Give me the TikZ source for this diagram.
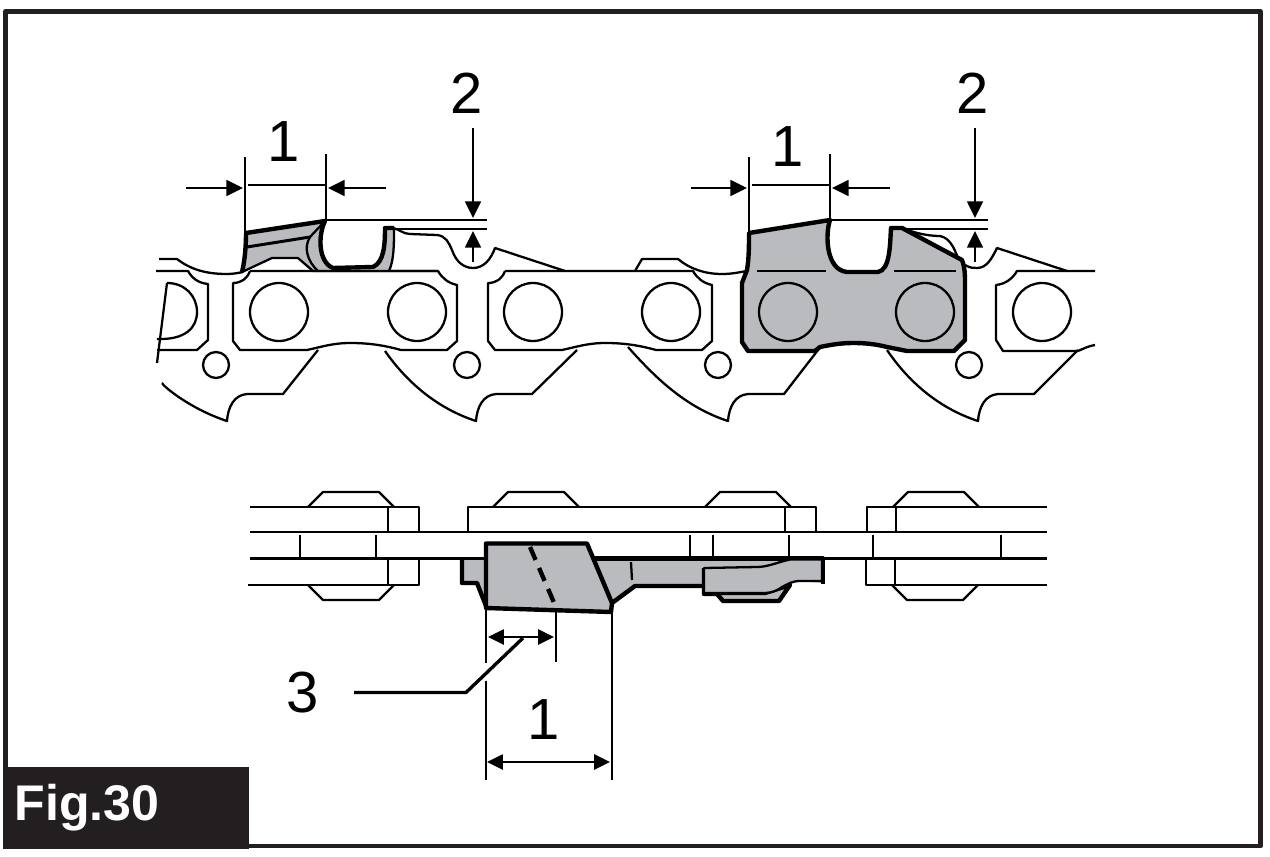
\documentclass[tikz,border=0pt]{standalone}
\usepackage{fontspec}
\setmainfont{Liberation Sans}
\usetikzlibrary{arrows.meta}
\definecolor{cutter}{HTML}{B9BBBE}
\definecolor{figbox}{HTML}{231F20}
\begin{document}
\begin{tikzpicture}[x=0.2mm,y=-0.2mm,line join=round,
    thinline/.style={line width=1.3pt},
    boldline/.style={line width=2.5pt},
    dimtip/.style={-{Triangle[length=9.5pt,width=9pt]},line width=1.3pt},
    dimboth/.style={{Triangle[length=9pt,width=8.5pt]}-{Triangle[length=9pt,width=8.5pt]},line width=1.3pt},
    number/.style={font=\fontsize{33}{33}\selectfont,inner sep=0pt}]
  \useasboundingbox (0,0) rectangle (1270,857);
  \draw[line width=2.8pt,figbox] (5.5,11.5) rectangle (1260.5,846);
  \fill[figbox] (3,767) rectangle (249,849);
  \node[font=\fontsize{28.5}{28.5}\selectfont\bfseries,text=white,inner sep=0pt] (figlabel) at (87,808) {Fig.30};

  % side view, plain links
  \begin{scope}[thinline]
    \foreach \lx in {233,488} {
      \draw[shift={(\lx,271)}] (17,0) -- (205,0)
        .. controls (209,7) and (215,12) .. (224,14) -- (224,70) -- (214,79)
        -- (168,79) .. controls (150,74) and (135,72) .. (117,72)
        .. controls (100,72) and (88,76) .. (74,79) -- (7,79) -- (0,70) -- (0,12)
        .. controls (8,12) and (14,8) .. (17,0);
    }
    \draw (156,271) -- (188,271) .. controls (192,278) and (198,283) .. (208,284)
      -- (208,340) -- (197,350) -- (157,350);
    \draw (167,283) .. controls (185,283) and (197,296) .. (197,312)
      .. controls (197,328) and (185,340) .. (157,339);
    \draw (167,283) -- (157,363);
    \draw (1095,271) -- (1017,271) .. controls (1013,278) and (1006,284) .. (996,285)
      -- (996,340) -- (1003,351) -- (1078,351) .. controls (1083,349) and (1088,346) .. (1095,345);
    \foreach \hx in {279,417,533,671,1042}
      \draw (\hx,312) circle[radius=29];
    \foreach \rx in {216,467,718,969}
      \draw (\rx,365) circle[radius=13];

    % drive links
    \foreach \fx/\fy/\tx/\ex in {163/383/227/318,385/351/476/577,628/347/728/818,887/350/978/1078} {
      \draw (\fx,\fy) .. controls (\tx-70,381) and (\tx-40,408) .. (\tx,421)
        .. controls (\tx+1,407) and (\tx+7,395) .. (\tx+20,394) -- (\tx+56,394) -- (\ex,350);
    }

    % top edges between the links
    \draw (159,259) -- (177,259) .. controls (190,269) and (205,274) .. (227,274)
      .. controls (233,274) and (238,273) .. (243,272);
    \draw (635,271) -- (642,259) -- (678,259) .. controls (690,269) and (705,274) .. (722,274)
      .. controls (733,274) and (740,272) .. (747,271);
    \draw (393,228) .. controls (399,229) and (403,234) .. (410,234) -- (437,235)
      .. controls (446,236) and (449,243) .. (452,250) .. controls (456,262) and (464,268) .. (473,268)
      .. controls (484,268) and (491,259) .. (495,248) -- (565,271);
    \draw (905,229) .. controls (915,233) and (928,236) .. (940,236)
      .. controls (950,238) and (954,248) .. (958,258);
    \draw (965,265) .. controls (970,268) and (973,268) .. (977,268)
      .. controls (987,268) and (992,258) .. (997,248) -- (1067,271);
  \end{scope}

  % cutter seen from the side, behind
  \fill[cutter] (246,233) -- (325,221) -- (320,240) .. controls (320,256) and (325,268) .. (335,271)
    -- (313,271) -- (298,258) -- (272,258) -- (243,272) -- cycle;
  \fill[cutter] (394,229) -- (394,253) -- (389,271) -- (370,271) .. controls (382,262) and (385,245) .. (385,229) -- cycle;
  \draw[boldline] (242,272) .. controls (245,260) and (246,245) .. (246,233) -- (325,221)
    .. controls (318,235) and (318,262) .. (333,268) -- (373,267)
    .. controls (384,262) and (385,245) .. (385,228) -- (394,228);
  \begin{scope}[thinline]
    \draw[line width=1.7pt] (247,247) -- (310,237);
    \draw (325,221) -- (310,237) .. controls (303,248) and (308,262) .. (318,271);
    \draw (242,272) -- (272,258) -- (298,258) -- (313,271) -- (438,271);
    \draw (394,228) .. controls (394,245) and (394,260) .. (389,271);
  \end{scope}

  % cutter seen from the side, front
  \draw[boldline,fill=cutter] (749,233) -- (830,220) .. controls (825,235) and (826,270) .. (847,272)
    -- (878,272) .. controls (890,270) and (890,245) .. (891,228) -- (902,228) -- (962,260)
    .. controls (965,268) and (965,275) .. (965,283) -- (965,340) -- (954,351) -- (907,351)
    -- (887,347) .. controls (875,344) and (865,343) .. (853,343) .. controls (840,343) and (830,345) .. (820,347)
    -- (815,351) -- (748,351) -- (742,342) -- (742,283) -- (747,270) .. controls (749,258) and (749,245) .. (749,233) -- cycle;
  \begin{scope}[thinline]
    \draw (757,271) -- (826,271);
    \draw (894,271) -- (956,271);
    \foreach \hx in {788,925}
      \draw (\hx,312) circle[radius=29];
  \end{scope}

  % measures, upper view
  \foreach \ax/\bx/\gx/\sx/\ex/\topx/\numx/\numy/\twox in {245/326/473/393/487/186/284/142/467,749/830/975/891/988/691/788/147/973} {
    \draw[thinline] (\ax,157) -- (\ax,233);
    \draw[thinline] (\bx,154) -- (\bx,221);
    \draw[thinline] (\ax+3,185) -- (\bx,185);
    \draw[dimtip] (\topx,188) -- (\ax-2,188);
    \draw[dimtip] (\bx+60,188) -- (\bx+2,188);
    \draw[thinline] (\bx,220) -- (\ex,220);
    \draw[thinline] (\sx,229) -- (\ex,229);
    \draw[dimtip] (\gx,128) -- (\gx,218);
    \draw[dimtip] (\gx,262) -- (\gx,231);
    \node[number] at (\numx,\numy) {1};
    \node[number] at (\twox,93) {2};
  }

  % top view, plates
  \begin{scope}[thinline]
    \draw (250,507) -- (419,507) -- (419,532);
    \draw (468,532) -- (468,507) -- (816,507) -- (816,532);
    \draw (867,532) -- (867,507) -- (1047,507);
    \draw (250,532) -- (1047,532);
    \draw (250,558.5) -- (486,558.5);
    \draw (823,558.5) -- (1047,558.5);
    \draw (248,585) -- (419,585) -- (419,558.5);
    \draw (866,558.5) -- (866,585) -- (1047,585);
    \foreach \vx/\ya/\yb in {388/507/532,388/558.5/585,785/507/532,896/507/532,895/558.5/585,
        300/535/558.5,376/535/558.5,690/535/558.5,713/535/558.5,789/535/558.5,873/535/558.5,1001/535/558.5}
      \draw (\vx,\ya) -- (\vx,\yb);
    \foreach \px in {308,493,705,893}
      \draw (\px,507) -- (\px+15,492) -- (\px+71,492) -- (\px+86,507);
    \foreach \px in {308,892}
      \draw (\px,585) -- (\px+15,600) -- (\px+71,600) -- (\px+86,585);
  \end{scope}

  % top view, cutter
  \fill[cutter] (462,558.5) -- (462,583) -- (477,583) -- (486,606) -- (486,558.5) -- cycle;
  \draw[boldline] (462,558.5) -- (462,583) -- (477,583) -- (486,606);
  \draw[thinline] (462,558.5) -- (486,558.5);
  \fill[cutter] (593,558.5) -- (823,558.5) -- (822,583) -- (797,581) -- (787,585) -- (779,601) -- (723,601) -- (717,594)
    -- (703,594) -- (703,586) -- (635,586) -- (612,603) -- cycle;
  \draw[boldline] (593,558.5) -- (823,558.5) -- (823,584);
  \draw[boldline] (612,603) -- (635,586) -- (704,586);
  \draw[boldline,fill=cutter] (704,568) -- (704,594) -- (717,594) -- (723,601) -- (779,601) -- (790,585)
    -- (765,593) -- (704,593);
  \draw[thinline,fill=cutter] (704,568) -- (757,567) .. controls (768,567) and (778,562) .. (790,559.5)
    -- (822,559.5) -- (822,581) -- (800,581) .. controls (792,581) and (788,584) .. (782,587)
    .. controls (778,590) and (772,593) .. (765,593) -- (704,593) -- cycle;
  \draw[thinline] (631,562) -- (632,580);
  \draw[boldline,fill=cutter] (486,543.5) -- (587,543.5) -- (612,603) -- (611,612) -- (486,608) -- cycle;
  \draw[boldline,dash pattern=on 8pt off 5pt] (530,547) -- (555,605);

  % measures, top view
  \draw[thinline] (486,610) -- (486,663);
  \draw[thinline] (486,681) -- (486,780);
  \draw[thinline] (556,610) -- (556,662);
  \draw[thinline] (612,612) -- (612,780);
  \draw[dimboth] (488,637) -- (554,637);
  \draw[dimboth] (487,762) -- (610,762);
  \node[number] (widthnum) at (544,720) {1};
  \node[number] (anglenum) at (303,693) {3};
  \coordinate (leadstart) at (354,692.5);
  \coordinate (leadbend) at (466,692.5);
  \coordinate (leadend) at (523,638);
  \draw[line width=1.9pt] (leadstart) -- (leadbend) -- (leadend);
\end{tikzpicture}
\end{document}
